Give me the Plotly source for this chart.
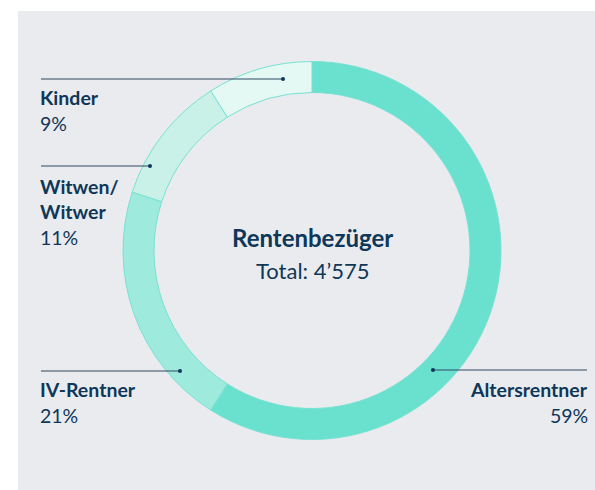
import plotly.graph_objects as go

# ---- data ----
categories = ["Altersrentner", "IV-Rentner", "Witwen/<br>Witwer", "Kinder"]
percent_labels = ["59%", "21%", "11%", "9%"]
values = [59, 21, 11, 9]
colors = ["#6AE0CF", "#9EEADC", "#C9F1E8", "#E4F8F4"]
center_title = "Rentenbezüger"
center_total = "Total: 4’575"

W, H = 595, 490
NAVY = "#0E3758"
FONT = "Lato"

def px(x):
    return x / W

def py(y):
    return 1 - y / H

fig = go.Figure()

# donut
cx, cy, r = 312, 250.5, 189
fig.add_trace(go.Pie(
    values=values,
    labels=[c.replace("<br>", " ") for c in categories],
    marker=dict(colors=colors, line=dict(color="#78E2D2", width=1)),
    hole=158 / 189,
    sort=False,
    direction="clockwise",
    rotation=0,
    textinfo="none",
    hoverinfo="label+percent",
    showlegend=False,
    domain=dict(x=[px(cx - r), px(cx + r)], y=[py(cy + r), py(cy - r)]),
))

shapes = [
    dict(type="rect", xref="paper", yref="paper", x0=px(18), x1=1, y0=0, y1=py(11),
         fillcolor="#EAEBEF", line=dict(width=0), layer="below"),
]

# leader lines: (x_start, x_end, y, dot_x)
leaders = [
    (433, 587, 370, 433),   # Altersrentner
    (41, 180, 371, 180),    # IV-Rentner
    (41, 150, 166, 150),    # Witwen
    (41, 283, 79, 283),     # Kinder
]
for x0, x1, y, dx in leaders:
    shapes.append(dict(type="line", xref="paper", yref="paper",
                       x0=px(x0), x1=px(x1), y0=py(y), y1=py(y),
                       line=dict(color="#2F4B63", width=1.2)))
    shapes.append(dict(type="circle", xref="paper", yref="paper",
                       x0=px(dx - 2), x1=px(dx + 2), y0=py(y - 2), y1=py(y + 2),
                       fillcolor="#0E3758", line=dict(width=0)))

annotations = []

def label(text, x, y, bold, size, anchor="left"):
    annotations.append(dict(
        text=f"<b>{text}</b>" if bold else text,
        x=px(x), y=py(y), xref="paper", yref="paper",
        xanchor=anchor, yanchor="middle", showarrow=False,
        font=dict(family=FONT, size=size, color=NAVY),
    ))

LS = 19.5
# Kinder
label(categories[3], 38, 98, True, LS)
label(percent_labels[3], 38, 123, False, LS)
# Witwen/Witwer
label("Witwen/", 38, 186, True, LS)
label("Witwer", 38, 211, True, LS)
label(percent_labels[2], 38, 237, False, LS)
# IV-Rentner
label(categories[1], 38, 389, True, LS)
label(percent_labels[1], 38, 415, False, LS)
# Altersrentner
label(categories[0], 590, 389, True, LS, anchor="right")
label(percent_labels[0], 590, 415, False, LS, anchor="right")

# center
annotations.append(dict(text=f"<b>{center_title}</b>", x=px(cx), y=py(237),
                        xref="paper", yref="paper", showarrow=False,
                        xanchor="center", yanchor="middle",
                        font=dict(family=FONT, size=24, color=NAVY)))
annotations.append(dict(text=center_total, x=px(cx), y=py(270),
                        xref="paper", yref="paper", showarrow=False,
                        xanchor="center", yanchor="middle",
                        font=dict(family=FONT, size=22, color=NAVY)))

fig.update_layout(
    width=W, height=H,
    margin=dict(l=0, r=0, t=0, b=0),
    paper_bgcolor="white",
    plot_bgcolor="white",
    shapes=shapes,
    annotations=annotations,
    font=dict(family=FONT, color=NAVY),
)

fig.write_html("out.html",
               config={"displayModeBar": False},
               post_script="document.body.style.margin='0';document.body.style.overflow='hidden';")
